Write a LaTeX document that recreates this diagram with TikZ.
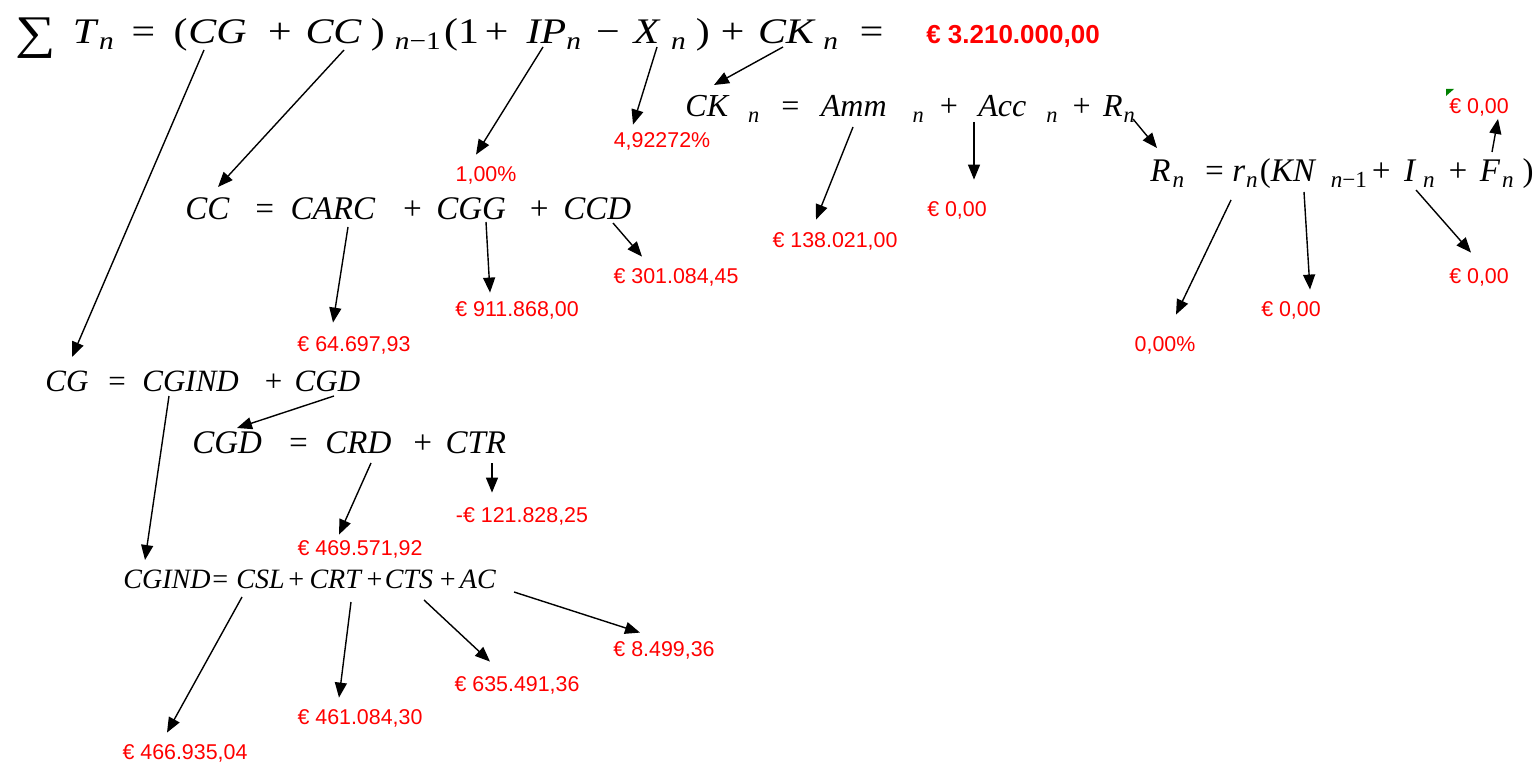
\documentclass[tikz,border=0pt]{standalone}
\usepackage{fontspec}
\setmainfont{Liberation Serif}
\newfontfamily\valfont{Liberation Sans}
\usetikzlibrary{arrows.meta}
\newcommand\hs[1]{\hspace{#1pt}}
\newcommand\idx[1]{\textsubscript{#1}}

\begin{document}
\begin{tikzpicture}[x=0.5pt,y=-0.5pt,eq/.style={anchor=base west,inner sep=0pt,font=\fontsize{#1}{#1}\selectfont\itshape},val/.style={text=red,font=\valfont\fontsize{10.7}{12}\selectfont,inner sep=1pt,text height=8pt,text depth=1.5pt},arrow/.style={line width=0.7pt,-{Triangle[length=7.5pt,width=6pt]}}]
\fill[white] (0,0) rectangle (1535,764);
\useasboundingbox (0,0) rectangle (1535,764);
% formulas
\node[eq=18] (fT) at (15,44){\scalebox{1.165}[1]{\raisebox{-2.5pt}{\scalebox{1.35}[1.3]{\textup{∑}}}\hs{7.3}T\hs{1.3}\idx{n}\hs{6}=\hs{7}\textup{(}\hs{0.4}CG\hs{8}+\hs{5.1}CC\hs{3.9}\textup{)}\hs{4.3}\idx{n\textup{−1}}\hs{0.9}\textup{(1}\hs{1.3}+\hs{7}IP\idx{n}\hs{6}\textup{−}\hs{6}X\hs{5}\idx{n}\hs{3.9}\textup{)}\hs{3.5}+\hs{5}CK\hs{4}\idx{n}\hs{7.7}=}};
\node[eq=16] (fCK) at (685,117){CK\hs{10}\idx{n}\hs{9.5}=\hs{10}Amm\hs{13}\idx{n}\hs{6.5}+\hs{9.5}Acc\hs{10}\idx{n}\hs{6}+\hs{5.5}R\hs{0.5}\idx{n}};
\node[eq=16.5] (fR) at (1150,182){R\hs{1}\idx{n}\hs{9}=\hs{3.5}r\hs{0.5}\idx{n}\hs{0.5}\textup{(}KN\hs{8}\idx{n\textup{−1}}\hs{1}+\hs{6}I\hs{4}\idx{n}\hs{5.5}+\hs{5.5}F\hs{1}\idx{n}\hs{4}\textup{)}};
\node[eq=16.5] (fCC) at (185,220){CC\hs{12}=\hs{7.5}CARC\hs{13}+\hs{6.5}CGG\hs{11}+\hs{6.5}CCD};
\node[eq=15.5] (fCG) at (45,392){CG\hs{9}=\hs{7.5}CGIND\hs{12}+\hs{5.5}CGD};
\node[eq=16.5] (fCGD) at (192,453){CGD\hs{12.5}=\hs{8}CRD\hs{10}+\hs{6}CTR};
\node[eq=14] (fCGIND) at (123,588){CGIND=\hs{3.5}CSL\hs{1}+\hs{2}CRT\hs{2}+\hs{0.5}CTS\hs{2.5}+\hs{1.5}AC};
% values
\node[val,font=\valfont\bfseries\fontsize{13}{15}\selectfont] (vtot) at (1013,37){€ 3.210.000,00};
\node[val] (v100) at (486,175){1,00\%};
\node[val] (v492) at (662,141){4,92272\%};
\node[val] (vamm) at (835,241){€ 138.021,00};
\node[val] (vacc) at (957,210){€ 0,00};
\node[val] (vrr) at (1165,345){0,00\%};
\node[val] (vkn) at (1291,310){€ 0,00};
\node[val] (vin) at (1479,277){€ 0,00};
\node[val] (vfn) at (1479,107){€ 0,00};
\node[val] (varc) at (354,345){€ 64.697,93};
\node[val] (vcgg) at (517,310){€ 911.868,00};
\node[val] (vccd) at (676,277){€ 301.084,45};
\node[val] (vcrd) at (360,549){€ 469.571,92};
\node[val] (vctr) at (522,516){-€ 121.828,25};
\node[val] (vcsl) at (185,753){€ 466.935,04};
\node[val] (vcrt) at (360,718){€ 461.084,30};
\node[val] (vcts) at (517,685){€ 635.491,36};
\node[val] (vac) at (664,650){€ 8.499,36};
\fill[green!50!black] (1446,89) -- (1454,89) -- (1446,96) -- cycle;
% arrow tails
\coordinate (tCG) at (204,50); \coordinate (tCC) at (344,50); \coordinate (tIP) at (543,47); \coordinate (tX) at (657,47); \coordinate (tCK) at (783,47);
\coordinate (tAmm) at (853,127); \coordinate (tAcc) at (974,122); \coordinate (tR) at (1133,119);
\coordinate (tr) at (1231,200); \coordinate (tKN) at (1304,192); \coordinate (tI) at (1416,190); \coordinate (tF) at (1492,152);
\coordinate (tCARC) at (348,227); \coordinate (tCGG) at (486,222); \coordinate (tCCD) at (613,223);
\coordinate (tCGIND) at (169,396); \coordinate (tCGD) at (334,396); \coordinate (tCRD) at (371,463); \coordinate (tCTR) at (492,463);
\coordinate (tCSL) at (242,597); \coordinate (tCRT) at (351,602); \coordinate (tCTS) at (424,600); \coordinate (tAC) at (514,592);
% arrows
\draw[arrow] (tCG) -- ([xshift=13.5pt,yshift=17.5pt]fCG.base west); \draw[arrow] (tCC) -- ([xshift=16.5pt,yshift=16.5pt]fCC.base west);
\draw[arrow] (tIP) -- ([xshift=-5pt,yshift=4.25pt]v100.north); \draw[arrow] (tX) -- ([xshift=-14.5pt,yshift=2.25pt]v492.north);
\draw[arrow] (tCK) -- ([xshift=14.5pt,yshift=16pt]fCK.base west);
\draw[arrow] (tAmm) -- ([xshift=-9.5pt,yshift=4.75pt]vamm.north); \draw[arrow] (tAcc) -- ([xshift=8.5pt,yshift=9.25pt]vacc.north);
\draw[arrow] (tR) -- ([xshift=3.5pt,yshift=17pt]fR.base west);
\draw[arrow] (tr) -- ([xshift=5.5pt,yshift=9.25pt]vrr.north); \draw[arrow] (tKN) -- ([xshift=9.5pt,yshift=4.25pt]vkn.north);
\draw[arrow] (tI) -- ([xshift=-4pt,yshift=6.25pt]vin.north); \draw[arrow] (tF) -- ([xshift=9.5pt]vfn.south);
\draw[arrow] (tCARC) -- ([xshift=-10.5pt,yshift=5.25pt]varc.north); \draw[arrow] (tCGG) -- ([xshift=-13.5pt,yshift=2.75pt]vcgg.north);
\draw[arrow] (tCCD) -- ([xshift=-17pt,yshift=4.25pt]vccd.north);
\draw[arrow] (tCGIND) -- ([xshift=11pt,yshift=14pt]fCGIND.base west); \draw[arrow] (tCGD) -- ([xshift=22.5pt,yshift=12.5pt]fCGD.base west);
\draw[arrow] (tCRD) -- ([xshift=-10.5pt,yshift=1.25pt]vcrd.north); \draw[arrow] (tCTR) -- ([xshift=-15pt,yshift=5.75pt]vctr.north);
\draw[arrow] (tCSL) -- ([xshift=-9pt,yshift=4.25pt]vcsl.north); \draw[arrow] (tCRT) -- ([xshift=-10.5pt,yshift=4.25pt]vcrt.north);
\draw[arrow] (tCTS) -- ([xshift=-13.5pt,yshift=5.75pt]vcts.north); \draw[arrow] (tAC) -- ([xshift=-12pt,yshift=2.75pt]vac.north);
\end{tikzpicture}
\end{document}
